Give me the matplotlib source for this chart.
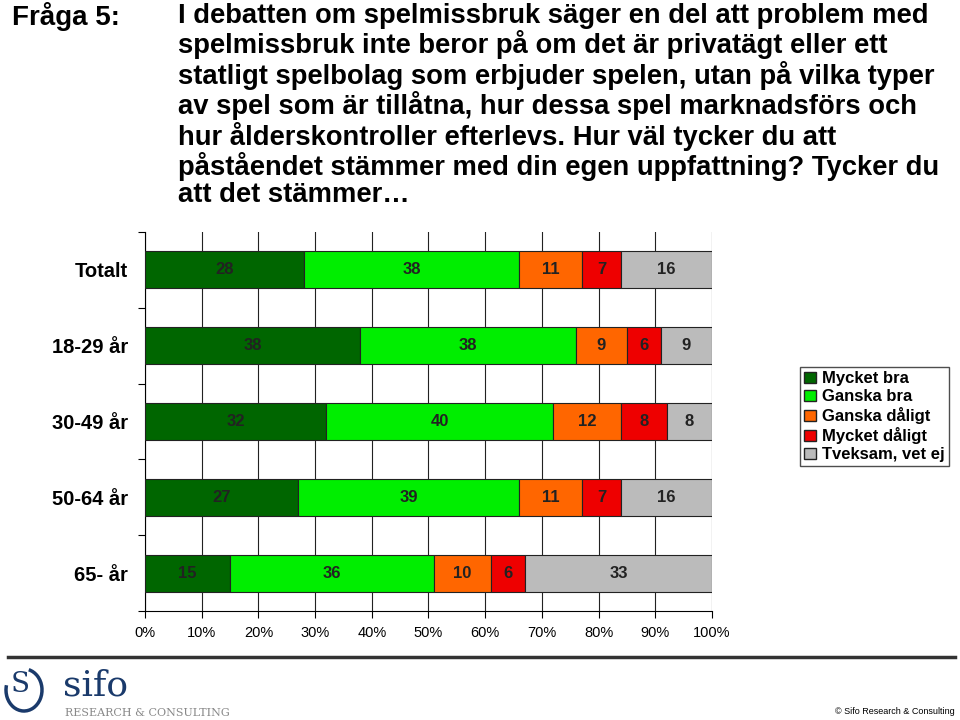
import matplotlib.pyplot as plt
import matplotlib.patches as mpatches
import numpy as np

plt.rcParams['font.family'] = ['Liberation Sans', 'DejaVu Sans']

# ---- data ----
groups = ["Totalt", "18-29 år", "30-49 år", "50-64 år", "65- år"]
answers = ["Mycket bra", "Ganska bra", "Ganska dåligt", "Mycket dåligt", "Tveksam, vet ej"]
mycket_bra = [28, 38, 32, 27, 15]
ganska_bra = [38, 38, 40, 39, 36]
ganska_daligt = [11, 9, 12, 11, 10]
mycket_daligt = [7, 6, 8, 7, 6]
tveksam = [16, 9, 8, 16, 33]
colors = ["#006600", "#00ee00", "#ff6600", "#ee0000", "#bbbbbb"]

question = ("I debatten om spelmissbruk säger en del att problem med\n"
            "spelmissbruk inte beror på om det är privatägt eller ett\n"
            "statligt spelbolag som erbjuder spelen, utan på vilka typer\n"
            "av spel som är tillåtna, hur dessa spel marknadsförs och\n"
            "hur ålderskontroller efterlevs. Hur väl tycker du att\n"
            "påståendet stämmer med din egen uppfattning? Tycker du\n"
            "att det stämmer…")

fig = plt.figure(figsize=(9.6, 7.2), dpi=100)

fig.text(12/960, 1 - 2/720, "Fråga 5:", fontsize=20, fontweight='bold', va='top')
fig.text(178/960, 1 - 3/720, question, fontsize=19.7, fontweight='bold', va='top',
         linespacing=1.06)

ax = fig.add_axes([145/960, 1 - 611/720, 567/960, 379/720])

series = [mycket_bra, ganska_bra, ganska_daligt, mycket_daligt, tveksam]
y = np.arange(len(groups))
left = np.zeros(len(groups))
for vals, col, name in zip(series, colors, answers):
    vals = np.array(vals, dtype=float)
    ax.barh(y, vals / 100, left=left / 100, height=0.49, color=col,
            edgecolor='#222222', linewidth=0.8, label=name, zorder=3)
    for yi, l, v in zip(y, left, vals):
        ax.text((l + v / 2) / 100, yi, f"{int(v)}", ha='center', va='center',
                fontsize=12, fontweight='bold', color='#222222', zorder=4)
    left += vals

ax.set_xlim(0, 1)
ax.set_ylim(len(groups) - 0.5, -0.5)
ax.set_xticks(np.linspace(0, 1, 11))
ax.set_xticklabels([f"{i}%" for i in range(0, 101, 10)], fontsize=10.5)
ax.xaxis.grid(True, color='#222222', linewidth=0.8, zorder=0)
ax.set_yticks(np.arange(-0.5, len(groups), 1))
ax.set_yticklabels([])
ax.set_yticks(y, minor=True)
ax.set_yticklabels(groups, minor=True, fontsize=14.5, fontweight='bold')
ax.tick_params(axis='y', which='minor', length=0, pad=12)
ax.tick_params(axis='y', which='major', length=5, width=0.8)
ax.tick_params(axis='x', length=5, width=0.8, pad=6)
for s in ['top', 'right']:
    ax.spines[s].set_visible(False)
ax.spines['left'].set_linewidth(0.8)
ax.spines['bottom'].set_linewidth(0.8)

handles = [mpatches.Patch(facecolor=c, edgecolor='#222222', label=a)
           for c, a in zip(colors, answers)]
leg = fig.legend(handles=handles, loc='upper left',
                 bbox_to_anchor=(800/960, 1 - 367/720), frameon=True,
                 fancybox=False, edgecolor='#222222', fontsize=12,
                 handlelength=0.7, handleheight=0.7, handletextpad=0.4,
                 labelspacing=0.18, borderpad=0.25, borderaxespad=0)
for t in leg.get_texts():
    t.set_fontweight('bold')

# ---- footer ----
fig.add_artist(plt.Line2D([8/960, 955/960], [1 - 657/720, 1 - 657/720],
                          color='#333333', linewidth=2.5))
fig.text(63/960, 1 - 696/720, "sifo", fontsize=26, family='DejaVu Serif',
         color='#1a3a6b', va='baseline')
fig.text(65/960, 1 - 716/720, "RESEARCH & CONSULTING", fontsize=8,
         family='DejaVu Serif', color='#888888', va='baseline')
fig.text(20/960, 1 - 684/720, "S", fontsize=20, family='DejaVu Serif',
         color='#1a3a6b', ha='center', va='center')
arc = mpatches.Arc((24/960, 1 - 690/720), 36/960, 42/720, theta1=-200, theta2=80,
                   color='#1a3a6b', linewidth=2.5, transform=fig.transFigure)
fig.add_artist(arc)
fig.text(955/960, 1 - 711/720, "© Sifo Research & Consulting", fontsize=6.5,
         ha='right', va='center')

fig.savefig("out.png", dpi=100)
